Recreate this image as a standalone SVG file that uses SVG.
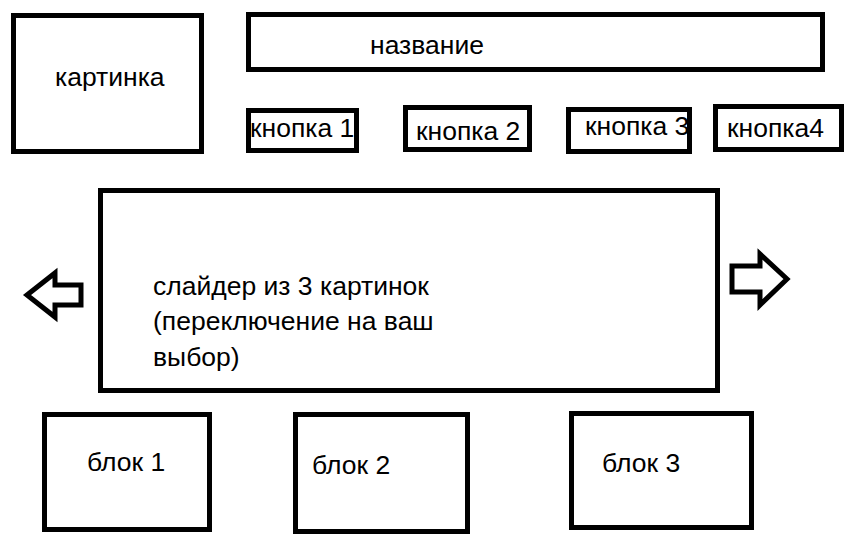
<svg xmlns="http://www.w3.org/2000/svg" width="865" height="547" viewBox="0 0 865 547">
  <style>
    .box { fill: none; stroke: #000; stroke-width: 5; }
    .arrow { fill: #fff; stroke: #000; stroke-width: 5; stroke-linejoin: miter; }
    .t { font-family: "Liberation Sans", Arial, sans-serif; font-size: 26.5px; fill: #000; }
  </style>
  <rect x="0" y="0" width="865" height="547" fill="#fff"/>

  <g id="kartinka">
    <text class="t" x="55" y="86">картинка</text>
    <rect class="box" x="13.5" y="15.5" width="188" height="136"/>
  </g>

  <g id="nazvanie">
    <text class="t" x="370" y="54">название</text>
    <rect class="box" x="248.5" y="14.5" width="574" height="55"/>
  </g>

  <g id="knopka1">
    <text class="t" x="250" y="137">кнопка 1</text>
    <rect class="box" x="248.5" y="110.5" width="108" height="40"/>
  </g>

  <g id="knopka2">
    <text class="t" x="416" y="140">кнопка 2</text>
    <rect class="box" x="405.5" y="107.5" width="124" height="42"/>
  </g>

  <g id="knopka3">
    <text class="t" x="585" y="135">кнопка 3</text>
    <rect class="box" x="568.5" y="109.5" width="121" height="42"/>
  </g>

  <g id="knopka4">
    <text class="t" x="727" y="137">кнопка4</text>
    <rect class="box" x="715.5" y="106.5" width="126" height="43"/>
  </g>

  <g id="slider">
    <rect class="box" x="100.5" y="190.5" width="617" height="200"/>
    <text class="t" x="153" y="295">слайдер из 3 картинок</text>
    <text class="t" x="153" y="330">(переключение на ваш</text>
    <text class="t" x="153" y="366">выбор)</text>
  </g>

  <g id="arrow-left">
    <polygon class="arrow" points="27,295 55,273 55,285 81,285 81,305 55,305 55,317"/>
  </g>

  <g id="arrow-right">
    <polygon class="arrow" points="732,266 760,266 760,254 787,279 760,305 760,292 732,292"/>
  </g>

  <g id="blok1">
    <rect class="box" x="44.5" y="414.5" width="165" height="115"/>
    <text class="t" x="87" y="471">блок 1</text>
  </g>

  <g id="blok2">
    <rect class="box" x="295.5" y="414.5" width="172" height="117"/>
    <text class="t" x="312" y="474">блок 2</text>
  </g>

  <g id="blok3">
    <rect class="box" x="571.5" y="413.5" width="180" height="114"/>
    <text class="t" x="602" y="472">блок 3</text>
  </g>

  <g id="connectors"/>
</svg>
